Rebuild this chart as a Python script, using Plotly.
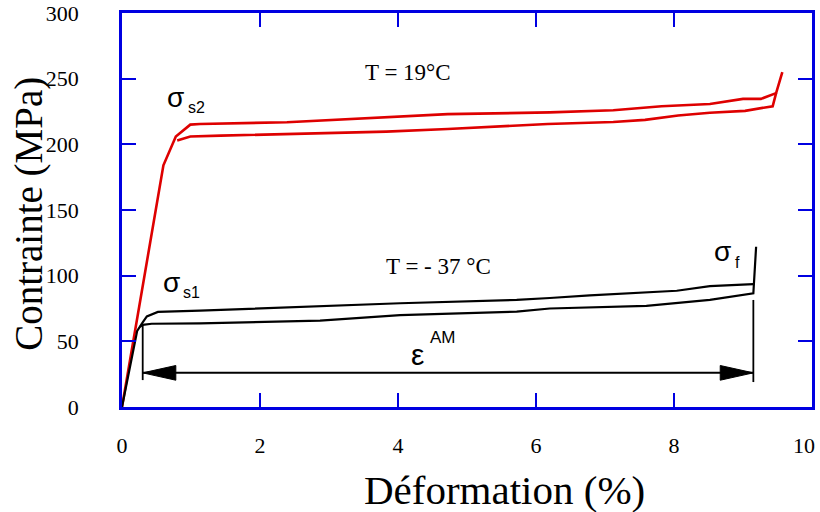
import plotly.graph_objects as go

# ---- data (strain %, stress MPa) ----
red_up_x = [0, 0.6, 0.78, 0.99, 1.13, 2.39, 4.72, 6.2, 7.12, 7.82, 8.52, 9.0, 9.26, 9.48, 9.57]
red_up_y = [0, 184, 206, 215, 215.5, 216.8, 223, 224.3, 226, 229, 230.7, 234.6, 234.6, 239, 255]
red_lo_x = [0.8, 0.99, 1.43, 2.83, 3.83, 4.72, 6.17, 7.12, 7.58, 8.06, 8.52, 9.03, 9.43, 9.48]
red_lo_y = [203, 206, 206.6, 208.4, 209.7, 211.7, 215.5, 217, 218.6, 222, 224, 225.5, 229, 239]

blk_up_x = [0, 0.22, 0.3, 0.36, 0.52, 1.13, 4.03, 5.72, 6.2, 6.78, 8.04, 8.52, 9.15]
blk_up_y = [0, 58, 64.5, 69, 72.4, 73.4, 79, 81.5, 83, 85, 88.5, 92, 93.6]
blk_lo_x = [0.26, 0.3, 0.43, 1.13, 2.87, 4.03, 5.72, 6.2, 7.6, 8.52, 9.15, 9.16, 9.19]
blk_lo_y = [61, 62.5, 63.4, 63.7, 65.7, 70, 72.6, 75, 77, 81.5, 86.6, 93.6, 122]

# epsilon^AM dimension arrow
eps_start, eps_end, eps_y = 0.3, 9.15, 26
eps_left_top, eps_left_bot = 62.5, 20.5
eps_right_top, eps_right_bot = 81.5, 19

x_ticks = [0, 2, 4, 6, 8, 10]
x_tick_labels = ["0", "2", "4", "6", "8", "10"]
y_ticks = [0, 50, 100, 150, 200, 250, 300]

RED = "rgb(222,0,0)"
BLUE = "rgb(0,0,225)"
SERIF = "Liberation Serif, Times New Roman, serif"
SANS = "Liberation Sans, Arial, sans-serif"

fig = go.Figure()
for xs, ys in [(red_up_x, red_up_y), (red_lo_x, red_lo_y)]:
    fig.add_trace(go.Scatter(x=xs, y=ys, mode="lines", line=dict(color=RED, width=2.6),
                             showlegend=False, hoverinfo="skip"))
for xs, ys in [(blk_up_x, blk_up_y), (blk_lo_x, blk_lo_y)]:
    fig.add_trace(go.Scatter(x=xs, y=ys, mode="lines", line=dict(color="black", width=2.2),
                             showlegend=False, hoverinfo="skip"))

# dimension lines
fig.add_trace(go.Scatter(x=[eps_start, eps_start], y=[eps_left_bot, eps_left_top], mode="lines",
                         line=dict(color="black", width=1.8), showlegend=False, hoverinfo="skip"))
fig.add_trace(go.Scatter(x=[eps_end, eps_end], y=[eps_right_bot, eps_right_top], mode="lines",
                         line=dict(color="black", width=1.8), showlegend=False, hoverinfo="skip"))
fig.add_trace(go.Scatter(x=[eps_start, eps_end], y=[eps_y, eps_y], mode="lines",
                         line=dict(color="black", width=2), showlegend=False, hoverinfo="skip"))

# arrowheads
hl, hh = 0.48, 5.6
fig.add_shape(type="path", xref="x", yref="y", fillcolor="black", line=dict(color="black", width=1),
              path=f"M {eps_start} {eps_y} L {eps_start + hl} {eps_y + hh} L {eps_start + hl} {eps_y - hh} Z")
fig.add_shape(type="path", xref="x", yref="y", fillcolor="black", line=dict(color="black", width=1),
              path=f"M {eps_end} {eps_y} L {eps_end - hl} {eps_y + hh} L {eps_end - hl} {eps_y - hh} Z")

def txt(x, y, text, size, family, xanchor="center", yanchor="middle"):
    fig.add_annotation(x=x, y=y, xref="x", yref="y", text=text, showarrow=False,
                       font=dict(size=size, family=family, color="black"),
                       xanchor=xanchor, yanchor=yanchor)

txt(4.14, 254.5, "T = 19°C", 23, SERIF)
txt(4.58, 107, "T = - 37 °C", 23, SERIF)

# sigma labels
txt(0.62, 236, "σ", 28, SANS, xanchor="left")
txt(0.93, 228, "s2", 16, SANS, xanchor="left")
txt(0.56, 95, "σ", 28, SANS, xanchor="left")
txt(0.86, 87, "s1", 16, SANS, xanchor="left")
txt(8.55, 118.5, "σ", 28, SANS, xanchor="left")
txt(8.86, 110, "f", 16, SANS, xanchor="left")
# epsilon AM
txt(4.28, 40, "ε", 30, SANS, xanchor="center")
txt(4.65, 53, "AM", 17, SANS, xanchor="center")

# last x tick label, nudged left so it stays inside the picture
fig.add_annotation(x=x_ticks[-1], y=0, xref="x", yref="paper", text=x_tick_labels[-1],
                   showarrow=False, xanchor="right", yanchor="middle", xshift=5, yshift=-38,
                   font=dict(size=22, family=SERIF, color="black"))

# axis titles
fig.add_annotation(xref="paper", yref="paper", x=-0.135, y=0.49, text="Contrainte (MPa)",
                   textangle=-90, showarrow=False, xanchor="center", yanchor="middle",
                   font=dict(size=39, family=SERIF, color="black"))
fig.add_annotation(xref="paper", yref="paper", x=0.555, y=-0.21, text="Déformation (%)",
                   showarrow=False, xanchor="center", yanchor="middle",
                   font=dict(size=41, family=SERIF, color="black"))

axis_common = dict(showgrid=False, zeroline=False, showline=True, linecolor=BLUE, linewidth=2.5,
                   mirror="ticks", ticks="inside", ticklen=14, tickwidth=2.2, tickcolor=BLUE,
                   automargin=False,
                   tickfont=dict(size=22, family=SERIF, color="black"))
fig.update_xaxes(range=[0, 10], tickvals=x_ticks,
                 ticktext=x_tick_labels[:-1] + [""],
                 ticklabelstandoff=17, **axis_common)
fig.update_yaxes(range=[0, 300], tickvals=y_ticks, ticktext=[str(v) for v in y_ticks],
                 ticklabelstandoff=36, **axis_common)

fig.update_layout(width=820, height=512, autosize=False,
                  margin=dict(l=122, r=8, t=13, b=105),
                  plot_bgcolor="white", paper_bgcolor="white")

fig.write_html("out.html")
